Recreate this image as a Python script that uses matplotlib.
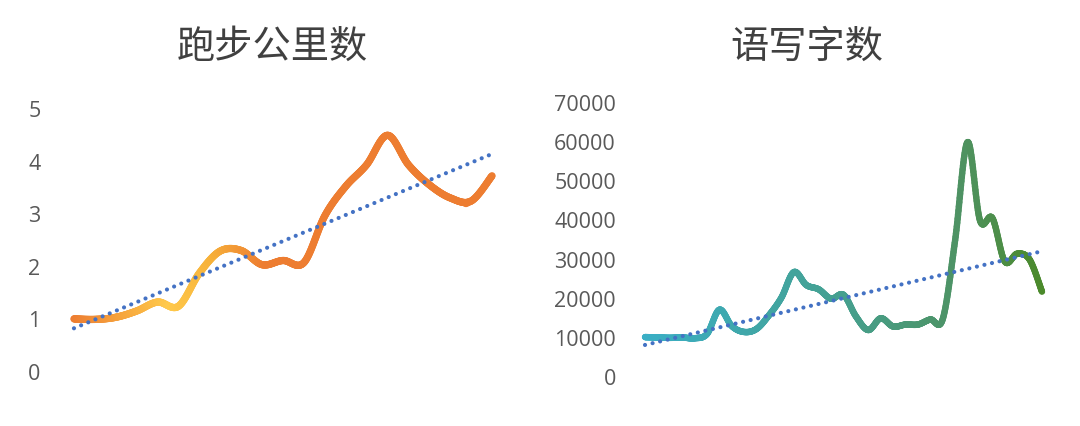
import numpy as np
import matplotlib
matplotlib.use('Agg')
import matplotlib.pyplot as plt
from matplotlib.collections import LineCollection
from matplotlib.colors import to_rgb

# running km per period
run_km = [1.01, 1.0, 1.04, 1.16, 1.33, 1.25, 1.88, 2.3, 2.31, 2.04, 2.12,
          2.08, 2.97, 3.53, 3.94, 4.5, 3.94, 3.56, 3.31, 3.25, 3.73]
# words written per period
words = [10200, 10100, 10000, 10100, 9900, 11000, 17200, 13000, 11500, 12300,
         15800, 20300, 26800, 23500, 22400, 20000, 21000, 15500, 12000, 15000,
         12900, 13400, 13400, 14700, 14800, 35000, 60000, 40000, 40600, 29500,
         31500, 30000, 21800]

run_title = '跑步公里数'
words_title = '语写字数'
run_ticks = [0, 1, 2, 3, 4, 5]
words_ticks = [0, 10000, 20000, 30000, 40000, 50000, 60000, 70000]

# gradient stops (fraction along x, colour)
run_stops = [(0.0, '#ED7D31'), (0.13, '#F7A83E'), (0.23, '#FFCA4C'),
             (0.33, '#F7B23A'), (0.46, '#ED7D31'), (1.0, '#ED7D31')]
words_stops = [(0.0, '#3AAFC6'), (0.5, '#45A08F'), (0.8, '#4E9262'),
               (1.0, '#4B8A2B')]

def smooth(y, n=30):
    # catmull-rom, like excel's smoothed line
    x = np.arange(len(y), dtype=float)
    y = np.asarray(y, dtype=float)
    px = np.concatenate([[x[0]], x, [x[-1]]])
    py = np.concatenate([[y[0]], y, [y[-1]]])
    xs, ys = [], []
    t = np.linspace(0, 1, n, endpoint=False)
    for i in range(1, len(px) - 2):
        for p, out in ((px, xs), (py, ys)):
            p0, p1, p2, p3 = p[i-1], p[i], p[i+1], p[i+2]
            out.append(0.5 * (2*p1 + (-p0 + p2)*t + (2*p0 - 5*p1 + 4*p2 - p3)*t**2
                              + (-p0 + 3*p1 - 3*p2 + p3)*t**3))
    xs.append([x[-1]])
    ys.append([y[-1]])
    return np.concatenate(xs), np.concatenate(ys)

def grad_colors(frac, stops):
    pos = [s[0] for s in stops]
    rgb = np.array([to_rgb(s[1]) for s in stops])
    return np.stack([np.interp(frac, pos, rgb[:, k]) for k in range(3)], axis=1)

def draw(ax, data, stops, lw, ticks, title_x, title):
    xs, ys = smooth(data)
    pts = np.column_stack([xs, ys]).reshape(-1, 1, 2)
    segs = np.concatenate([pts[:-1], pts[1:]], axis=1)
    mid = (xs[:-1] + xs[1:]) / 2 / (len(data) - 1)
    lc = LineCollection(segs, colors=grad_colors(mid, stops), linewidths=lw,
                        capstyle='round', joinstyle='round')
    ax.add_collection(lc)
    # linear trendline
    idx = np.arange(len(data))
    k, b = np.polyfit(idx, data, 1)
    ax.plot(idx, k*idx + b, color='#4472C4', lw=3,
            linestyle=(0, (0.01, 1.85)), dash_capstyle='round')
    ax.set_xlim(-0.5, len(data) - 0.5)
    ax.set_ylim(ticks[0], ticks[-1])
    ax.set_yticks(ticks)
    ax.set_yticklabels([str(t) for t in ticks], fontfamily='Open Sans',
                       fontsize=15.5, color='#595959')
    ax.tick_params(axis='y', length=0, pad=16.5)
    ax.set_xticks([])
    for s in ax.spines.values():
        s.set_visible(False)
    fig.text(title_x, 1 - 47/426, title, ha='center', va='center',
             fontsize=27.5, color='#404040',
             family=['Noto Sans CJK SC', 'DejaVu Sans'])

fig = plt.figure(figsize=(10.8, 4.26), dpi=100)
ax1 = fig.add_axes([63.5/1080, 54/426, 439/1080, 263/426])
ax2 = fig.add_axes([638.8/1080, 49/426, 409.4/1080, 274/426])
draw(ax1, run_km, run_stops, 5.2, run_ticks, 272/1080, run_title)
draw(ax2, words, words_stops, 4.6, words_ticks, 807/1080, words_title)
fig.savefig('out.png', dpi=100)
